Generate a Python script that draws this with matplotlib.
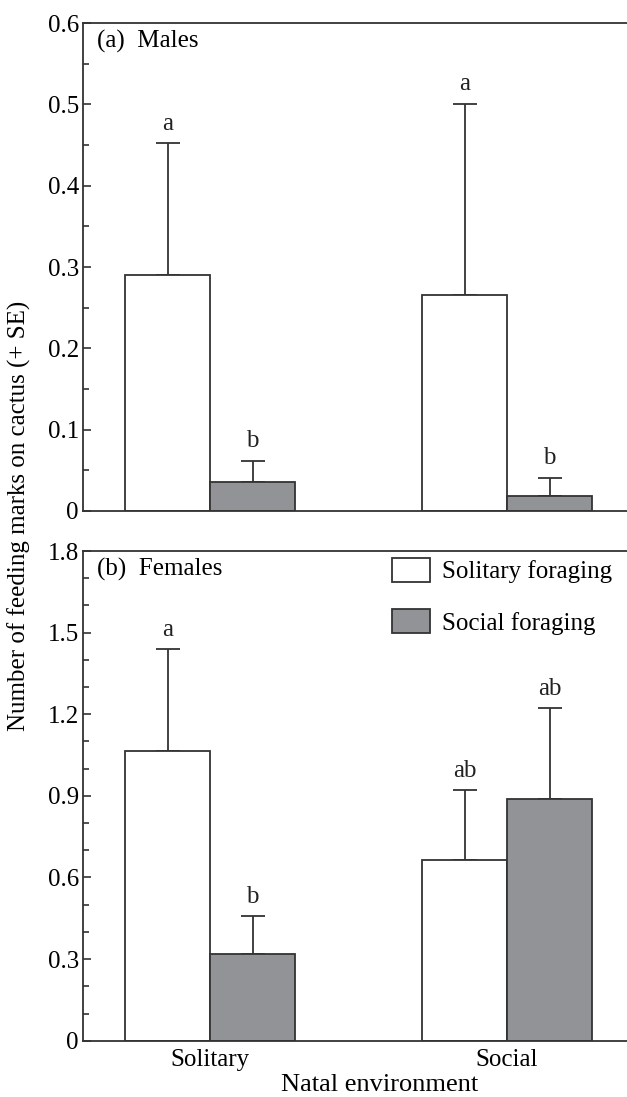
import numpy as np
import matplotlib
matplotlib.use("Agg")
import matplotlib.pyplot as plt
from matplotlib.ticker import MultipleLocator, FuncFormatter

plt.rcParams['font.family'] = ['Liberation Serif', 'DejaVu Serif']
plt.rcParams['font.size'] = 18

# datos
natal = ["Solitary", "Social"]
legend_labels = ["Solitary foraging", "Social foraging"]

males_solitary = [0.290, 0.266]
males_solitary_se = [0.162, 0.235]
males_social = [0.036, 0.018]
males_social_se = [0.026, 0.023]
males_letters_sol = ["a", "a"]
males_letters_soc = ["b", "b"]

fem_solitary = [1.066, 0.664]
fem_solitary_se = [0.374, 0.258]
fem_social = [0.320, 0.887]
fem_social_se = [0.138, 0.335]
fem_letters_sol = ["a", "ab"]
fem_letters_soc = ["b", "ab"]

dark = "#333333"
grey = "#929397"
w = 0.286
fs = 18

fig = plt.figure(figsize=(6.27, 10.97), dpi=100)
ax1 = fig.add_axes([0.1324, 0.5342, 0.88, 0.4448])
ax2 = fig.add_axes([0.1324, 0.0513, 0.88, 0.4464])


def panel(ax, sol, sol_se, soc, soc_se, let_sol, let_soc, ymax, major, minor, label):
    x = np.arange(len(natal))
    b1 = ax.bar(x - w / 2, sol, w, color="white", edgecolor=dark, linewidth=1.3,
                label=legend_labels[0], zorder=2)
    b2 = ax.bar(x + w / 2, soc, w, color=grey, edgecolor=dark, linewidth=1.3,
                label=legend_labels[1], zorder=2)
    for xs, vals, se, lets in [(x - w / 2, sol, sol_se, let_sol), (x + w / 2, soc, soc_se, let_soc)]:
        ax.errorbar(xs, vals, yerr=[np.zeros(len(se)), se], fmt="none", ecolor=dark,
                    elinewidth=1.3, capsize=8.3, capthick=1.3, zorder=1)
        for xi, v, s, l in zip(xs, vals, se, lets):
            ax.annotate(l, (xi, v + s), xytext=(0, 6), textcoords="offset points",
                        ha="center", va="bottom", fontsize=fs, color="#222222")
    ax.set_xlim(-0.428, 1.43)
    ax.set_ylim(0, ymax)
    ax.yaxis.set_major_locator(MultipleLocator(major))
    ax.yaxis.set_minor_locator(MultipleLocator(minor))
    ax.yaxis.set_major_formatter(FuncFormatter(lambda v, p: "0" if abs(v) < 1e-9 else f"{v:.1f}"))
    ax.tick_params(axis="y", which="major", direction="in", length=6, width=1.2, color=dark,
                   labelsize=fs, pad=3)
    ax.tick_params(axis="y", which="minor", direction="in", length=4, width=1.2, color=dark)
    ax.set_xticks(x)
    ax.tick_params(axis="x", length=0, labelsize=fs, pad=6)
    ax.spines["right"].set_visible(False)
    for s in ["left", "top", "bottom"]:
        ax.spines[s].set_color(dark)
        ax.spines[s].set_linewidth(1.3)
    ax.text(0.025, 0.985, label, transform=ax.transAxes, ha="left", va="top", fontsize=fs)
    return b1, b2


panel(ax1, males_solitary, males_solitary_se, males_social, males_social_se,
      males_letters_sol, males_letters_soc, 0.6, 0.1, 0.05, "(a)  Males")
ax1.set_xticklabels([])

panel(ax2, fem_solitary, fem_solitary_se, fem_social, fem_social_se,
      fem_letters_sol, fem_letters_soc, 1.8, 0.3, 0.1, "(b)  Females")
ax2.set_xticklabels(natal)
ax2.legend(loc="upper left", bbox_to_anchor=(0.5416, 1.006), frameon=False, fontsize=fs,
           handlelength=1.52, handleheight=1.08, labelspacing=1.03, handletextpad=0.5,
           borderaxespad=0)

fig.text(0.605, 0.001, "Natal environment", ha="center", va="bottom", fontsize=19)
fig.text(0.03, 0.53, "Number of feeding marks on cactus (+ SE)", rotation=90,
         ha="center", va="center", fontsize=fs)

plt.savefig("out.png", dpi=100)
